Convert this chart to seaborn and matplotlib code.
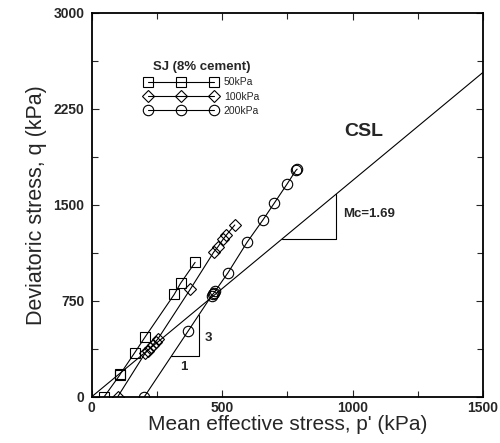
import numpy as np
import pandas as pd
import seaborn as sns
import matplotlib
matplotlib.use("Agg")
import matplotlib.pyplot as plt
from matplotlib.ticker import MultipleLocator

# ---- data ----
p_50 = [48, 108, 110, 166, 206, 317, 341, 397]
q_50 = [0, 170, 178, 347, 470, 801, 887, 1051]

p_100 = [100, 205, 215, 226, 236, 246, 255, 379, 468, 485, 504, 517, 549]
q_100 = [0, 340, 362, 385, 408, 432, 455, 843, 1130, 1174, 1231, 1265, 1343]

p_200 = [202, 370, 460, 465, 470, 475, 523, 596, 657, 700, 749, 783, 788]
q_200 = [0, 514, 790, 802, 815, 830, 970, 1208, 1383, 1513, 1662, 1769, 1779]

series_labels = ["50kPa", "100kPa", "200kPa"]
legend_title = "SJ (8% cement)"

csl_M = 1.69
csl_p = [0, 1500]

x_ticks = [0, 500, 1000, 1500]
y_ticks = [0, 750, 1500, 2250, 3000]

df = pd.concat([
    pd.DataFrame({"p": p_50, "q": q_50, "test": series_labels[0]}),
    pd.DataFrame({"p": p_100, "q": q_100, "test": series_labels[1]}),
    pd.DataFrame({"p": p_200, "q": q_200, "test": series_labels[2]}),
])

sns.set_theme(style="ticks")
plt.rcParams['font.family'] = ['Liberation Sans', 'DejaVu Sans']

fig = plt.figure(figsize=(5.0, 4.43), dpi=100)
ax = fig.add_axes([0.183, 0.104, 0.783, 0.867])

markers = {"50kPa": "s", "100kPa": "D", "200kPa": "o"}
msizes = {"50kPa": 7, "100kPa": 6.5, "200kPa": 7.5}
for lab in series_labels:
    sub = df[df.test == lab]
    ax.plot(sub.p, sub.q, color="black", lw=0.8, marker=markers[lab],
            ms=msizes[lab], mfc="none", mec="black", mew=0.8, label=lab)

# CSL
ax.plot(csl_p, [csl_M * v for v in csl_p], color="black", lw=0.8)

# slope triangles
ax.plot([730, 936, 936], [csl_M * 730, csl_M * 730, csl_M * 936], color="black", lw=0.8)
ax.plot([306, 412, 412], [318, 318, 639], color="black", lw=0.8)

ax.text(970, 2074, "CSL", fontsize=14, fontweight="bold", va="center", ha="left")
ax.text(964, 1427, "Mc=1.69", fontsize=9.5, fontweight="bold", va="center", ha="left")
ax.text(447, 457, "3", fontsize=9.5, fontweight="bold", va="center", ha="center")
ax.text(354, 235, "1", fontsize=9.5, fontweight="bold", va="center", ha="center")

ax.set_xlim(0, 1500)
ax.set_ylim(0, 3000)
ax.set_xticks(x_ticks)
ax.set_yticks(y_ticks)
ax.xaxis.set_minor_locator(MultipleLocator(250))
ax.yaxis.set_minor_locator(MultipleLocator(375))
ax.tick_params(which="both", direction="in", top=True, right=True, width=0.8)
ax.tick_params(which="major", length=5, labelsize=10)
ax.tick_params(axis="y", which="major", pad=5)
ax.tick_params(axis="x", which="major", pad=3)
ax.tick_params(which="minor", length=4)
for t in ax.get_xticklabels() + ax.get_yticklabels():
    t.set_fontweight("bold")
for s in ax.spines.values():
    s.set_linewidth(1.3)
    s.set_color("black")

ax.set_xlabel("Mean effective stress, p' (kPa)", fontsize=15, labelpad=0)
ax.set_ylabel("Deviatoric stress, q (kPa)", fontsize=15.5, labelpad=5)

leg = ax.legend(title=legend_title, numpoints=3, frameon=False, fontsize=7.5,
                loc="upper left", bbox_to_anchor=(0.125, 0.885), handlelength=7,
                labelspacing=0.4, handletextpad=0.6, borderaxespad=0)
leg.get_title().set_fontsize(9.5)
leg.get_title().set_fontweight("bold")

fig.savefig("out.png", dpi=100)
